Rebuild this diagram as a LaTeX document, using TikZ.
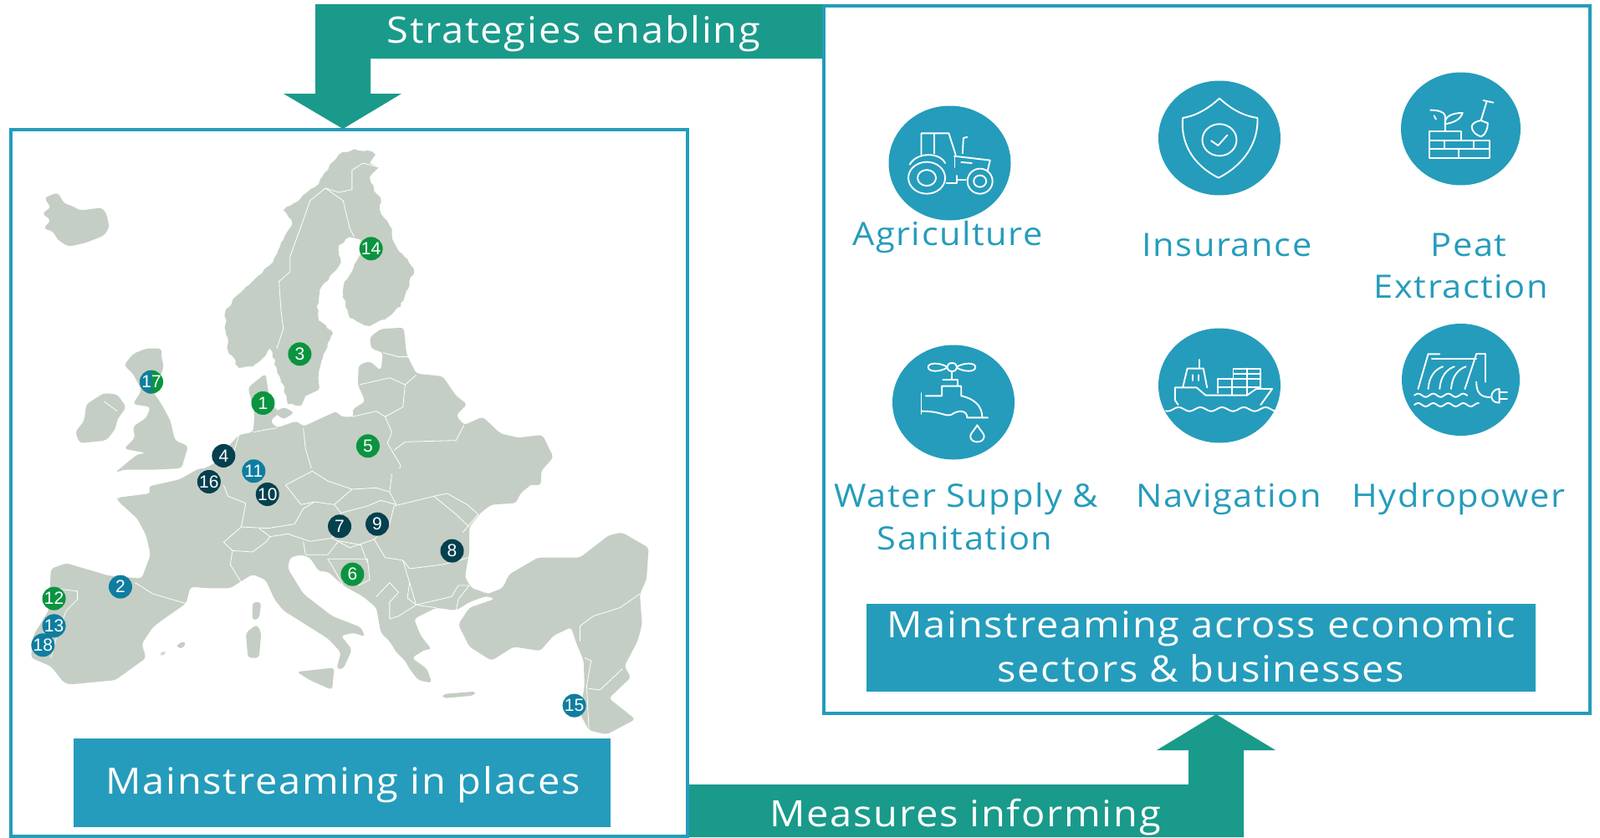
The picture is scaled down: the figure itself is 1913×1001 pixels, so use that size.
\documentclass[tikz,border=0pt]{standalone}
\usepackage{fontspec}
\usetikzlibrary{shapes.geometric,decorations.pathmorphing}
\setmainfont{Open Sans}
\newfontfamily\labelfont[LetterSpace=4,FakeStretch=1.08]{Open Sans}
\newfontfamily\pinfont{Liberation Sans}
\definecolor{frameblue}{HTML}{259CBB}
\definecolor{arrowteal}{HTML}{1A9A8A}
\definecolor{landgrey}{HTML}{C5CEC4}
\definecolor{pingreen}{HTML}{0A9440}
\definecolor{pinblue}{HTML}{0F7DA0}
\definecolor{pindark}{HTML}{04404E}
\tikzset{
  frame/.style={draw=frameblue,line width=4.5pt,fill=white},
  bigtext/.style={anchor=base,text=white,font=\labelfont\fontsize{43.5}{45}\selectfont,inner sep=0pt},
  sectortext/.style={anchor=base,text=frameblue,font=\labelfont\fontsize{38.5}{40}\selectfont,inner sep=0pt},
  land/.style={fill=landgrey,rounded corners=4pt},
  rough/.style={fill=landgrey,decorate,decoration={random steps,segment length=5pt,amplitude=1.6pt}},
  border/.style={draw=white,line width=0.8pt,line join=round},
  pin/.style={circle,fill=#1,text=white,inner sep=0pt,minimum size=28pt,font=\pinfont\fontsize{21}{21}\selectfont},
  sector/.style={ellipse,fill=frameblue,inner sep=0pt,minimum width=146pt,minimum height=137pt},
  icon/.style={draw=white,line width=1.9pt,line join=round,line cap=round},
  zoomA/.style={x=0.5294pt,y=-0.3333pt},
  zoomB/.style={x=0.5485pt,y=-0.3333pt}
}
\begin{document}
\begin{tikzpicture}[x=1pt,y=-1pt]
\useasboundingbox (0,0) rectangle (1913,1001);
\fill[white] (0,0) rectangle (1913,1001);

% frames
\draw[frame] (13,155) rectangle (822,1000);
\draw[frame] (985,7) rectangle (1901,853);

% arrows
\fill[arrowteal] (377,5) -- (983,5) -- (983,70) -- (443,70) -- (443,112) -- (480,112) -- (410,154) -- (339,112) -- (377,112) -- cycle;
\fill[arrowteal] (824,938) -- (1421,938) -- (1421,897) -- (1383,897) -- (1454,854) -- (1525,897) -- (1487,897) -- (1487,1001) -- (824,1001) -- cycle;
\node[bigtext] (strategies) at (686,51) {Strategies enabling};
\node[bigtext] (measures) at (1154,988) {Measures informing};

% map, north part
\begin{scope}[shift={(0,140)},zoomA]
\fill[land] (100,290)--(130,270)--(145,310)--(165,320)--(180,335)--(205,330)--(230,325)--(240,345)--(247,395)--(235,425)--(195,450)--(155,465)--(130,440)--(120,410)--(98,400)--(115,370)--(95,345)--(115,325)--cycle;
\fill[rough] (775,125)--(800,115)--(830,120)--(848,135)--(835,165)--(855,180)--(835,215)--(845,265)--(860,290)--(858,335)--(880,390)--(885,420)--(895,465)--(908,490)--(935,545)--(925,600)--(905,680)--(870,725)--(835,750)--(815,740)--(790,720)--(775,640)--(778,590)--(800,530)--(815,490)--(815,440)--(790,430)--(765,460)--(770,520)--(745,570)--(722,620)--(715,680)--(720,730)--(752,775)--(745,800)--(725,880)--(720,920)--(718,980)--(690,1000)--(680,1035)--(650,1030)--(640,960)--(625,900)--(610,830)--(590,870)--(570,895)--(540,900)--(515,840)--(510,770)--(510,690)--(535,640)--(570,590)--(610,530)--(640,440)--(660,380)--(640,335)--(680,290)--(720,240)--(745,170)--cycle;
\fill[land] (300,850)--(330,830)--(365,830)--(365,870)--(370,890)--(365,920)--(345,985)--(365,1030)--(385,1090)--(395,1160)--(425,1180)--(410,1260)--(350,1265)--(280,1265)--(260,1275)--(310,1210)--(330,1205)--(280,1190)--(305,1150)--(300,1110)--(330,1080)--(340,1040)--(300,1030)--(320,980)--(300,920)--(280,890)--cycle;
\fill[land] (235,990)--(265,995)--(285,1040)--(265,1085)--(260,1120)--(240,1160)--(180,1170)--(170,1130)--(190,1090)--(195,1030)--cycle;
\fill[land] (640,1040)--(665,1060)--(640,1085)--(620,1060)--cycle;
\fill[land] (440,1320)--(440,1270)--(470,1255)--(490,1235)--(510,1190)--(540,1140)--(572,1130)--(575,1060)--(560,970)--(600,920)--(605,975)--(612,1030)--(632,1060)--(610,1090)--(625,1115)--(670,1090)--(685,1110)--(760,1055)--(770,1075)--(800,1075)--(795,1050)--(825,1020)--(808,960)--(810,890)--(835,875)--(860,910)--(865,845)--(838,830)--(835,790)--(860,760)--(912,755)--(918,850)--(940,920)--(970,925)--(1000,930)--(1030,1000)--(1055,1030)--(1030,1070)--(1048,1105)--(1090,1075)--(1130,1135)--(1170,1150)--(1225,1140)--(1250,1220)--(1222,1270)--(1222,1320)--cycle;
\draw[border] (735,255)--(700,300)--(685,370)--(655,500)--(655,555)--(630,590)--(635,700)--(640,760)--(625,830);
\draw[border] (735,255)--(765,270)--(795,260)--(795,190)--(820,165)--(855,180);
\draw[border] (735,255)--(775,300)--(790,400)--(800,430);
\draw[border] (865,845)--(900,860)--(925,860);
\draw[border] (812,960)--(880,935)--(915,960)--(940,925);
\draw[border] (915,960)--(910,1040)--(870,1075);
\draw[border] (795,1075)--(850,1055)--(870,1075)--(885,1130)--(875,1170)--(905,1250)--(885,1320);
\draw[border] (890,1195)--(915,1165)--(1030,1160)--(1048,1105);
\draw[border] (685,1115)--(690,1190)--(705,1270);
\draw[border] (540,1140)--(530,1190)--(515,1260);
\draw[border] (572,1130)--(625,1115);
\draw[border] (235,1020)--(265,1055);
\end{scope}

% map, south part
\begin{scope}[shift={(0,560)},zoomA]
\fill[land] (450,0)--(405,40)--(335,65)--(340,90)--(265,105)--(265,115)--(310,180)--(330,240)--(340,310)--(320,395)--(245,385)--(150,340)--(115,360)--(110,510)--(75,600)--(70,680)--(115,710)--(145,770)--(160,775)--(260,760)--(295,720)--(330,680)--(320,630)--(345,570)--(370,540)--(420,485)--(430,425)--(470,430)--(520,430)--(570,380)--(600,400)--(620,470)--(640,510)--(700,570)--(740,610)--(770,660)--(760,720)--(775,720)--(795,650)--(770,600)--(800,590)--(825,605)--(815,570)--(750,530)--(685,450)--(650,360)--(655,320)--(680,310)--(700,320)--(720,370)--(740,370)--(775,420)--(820,460)--(850,500)--(860,590)--(880,620)--(895,660)--(915,690)--(925,720)--(945,760)--(975,770)--(965,720)--(930,680)--(960,650)--(975,650)--(950,600)--(935,540)--(985,500)--(1030,510)--(1060,480)--(1098,458)--(1118,468)--(1060,500)--(1035,560)--(1060,640)--(1110,690)--(1160,640)--(1220,655)--(1250,600)--(1290,570)--(1300,620)--(1318,690)--(1320,780)--(1310,880)--(1330,940)--(1370,955)--(1435,900)--(1375,825)--(1425,750)--(1410,710)--(1440,620)--(1450,560)--(1445,450)--(1460,400)--(1465,285)--(1405,230)--(1375,240)--(1310,320)--(1215,320)--(1150,380)--(1135,430)--(1098,452)--(1095,445)--(1065,430)--(1050,390)--(1060,300)--(1060,210)--(1085,160)--(1110,130)--(1165,125)--(1175,90)--(1222,30)--(1222,0)--cycle;
\fill[land] (580,560)--(590,590)--(585,680)--(560,680)--(555,590)--cycle;
\fill[land] (570,480)--(590,480)--(585,540)--(570,545)--cycle;
\fill[land] (670,730)--(755,715)--(750,795)--(700,760)--cycle;
\fill[land] (1000,810)--(1075,800)--(1070,815)--(1000,825)--cycle;
\fill[land] (400,630)--(420,620)--(415,645)--(400,645)--cycle;
\fill[land] (362,665)--(370,655)--(375,665)--(365,672)--cycle;
\draw[border] (645,60)--(705,10)--(740,45)--(795,75)--(850,70)--(880,85)--(885,20);
\draw[border] (645,60)--(680,130)--(710,120)--(755,130)--(795,75);
\draw[border] (755,130)--(770,160)--(830,135)--(860,115)--(895,130)--(880,85);
\draw[border] (770,160)--(750,250)--(790,285)--(845,255)--(880,200)--(890,135)--(980,100)--(1030,165)--(1060,210);
\draw[border] (710,120)--(685,145)--(665,200)--(605,215)--(545,210);
\draw[border] (585,215)--(610,245)--(650,235)--(700,262)--(750,250);
\draw[border] (505,265)--(545,210)--(555,125)--(515,100)--(505,60);
\draw[border] (525,295)--(570,300)--(600,265)--(610,245);
\draw[border] (505,265)--(525,295)--(520,345)--(545,410);
\draw[border] (305,410)--(345,450)--(420,485);
\draw[border] (110,430)--(175,440)--(175,470)--(150,510)--(130,590)--(115,680);
\draw[border] (685,262)--(690,310)--(740,310)--(765,260)--(815,275)--(830,340);
\draw[border] (740,325)--(750,350)--(775,420);
\draw[border] (740,325)--(830,325)--(835,400)--(810,420);
\draw[border] (845,255)--(870,320)--(910,330)--(925,410)--(920,465)--(940,490);
\draw[border] (910,330)--(925,360)--(1000,345)--(1060,320);
\draw[border] (925,410)--(940,490)--(1020,460)--(1035,420)--(1060,420);
\draw[border] (880,540)--(900,530)--(940,490)--(985,500);
\draw[border] (850,460)--(880,410)--(900,445)--(880,480)--(880,540);
\draw[border] (980,100)--(1010,90)--(1055,130)--(1080,165)--(1045,230);
\draw[border] (1030,510)--(1035,470)--(1060,420);
\draw[border] (1445,450)--(1400,500)--(1340,530)--(1310,565)--(1310,620);
\draw[border] (1330,790)--(1355,795)--(1405,720);
\draw[border] (1320,680)--(1335,690)--(1325,780)--(1330,940);
\end{scope}

% pins
\begin{scope}[shift={(0,140)},zoomA]
\node[pin=pingreen] (p14) at (838,472) {14};
\node[pin=pingreen] (p3) at (677,850) {3};
\node[pin=pingreen,path picture={\fill[pinblue] (path picture bounding box.south west) rectangle (path picture bounding box.north);}] (p17) at (342,950) {17};
\node[pin=pingreen] (p1) at (594,1026) {1};
\node[pin=pingreen] (p5) at (831,1180) {5};
\node[pin=pindark] (p4) at (505,1215) {4};
\node[pin=pinblue] (p11) at (573,1270) {11};
\end{scope}
\begin{scope}[shift={(0,560)},zoomA]
\node[pin=pindark] (p16) at (472,48) {16};
\node[pin=pindark] (p10) at (604,93) {10};
\node[pin=pindark] (p7) at (767,208) {7};
\node[pin=pindark] (p9) at (852,200) {9};
\node[pin=pindark] (p8) at (1021,296) {8};
\node[pin=pingreen] (p6) at (796,380) {6};
\node[pin=pinblue] (p2) at (272,425) {2};
\node[pin=pingreen] (p12) at (122,467) {12};
\node[pin=pinblue] (p13) at (122,565) {13};
\node[pin=pinblue] (p18) at (97,634) {18};
\node[pin=pinblue] (p15) at (1297,851) {15};
\end{scope}

% label boxes
\fill[frameblue] (88,883) rectangle (730,989);
\node[bigtext] (places) at (410,949) {Mainstreaming in places};
\fill[frameblue] (1036,722) rectangle (1836,827);
\node[bigtext] (across1) at (1436,762) {Mainstreaming across economic};
\node[bigtext] (across2) at (1436,815) {sectors \& businesses};

% sector discs
\node[sector] (agri) at (1135.5,195) {};
\node[sector] (insur) at (1458,165) {};
\node[sector,minimum width=143pt,minimum height=135pt] (peat) at (1746.5,154) {};
\node[sector] (water) at (1140,481) {};
\node[sector] (navi) at (1458,461) {};
\node[sector,minimum width=141pt,minimum height=134pt] (hydro) at (1746.5,454) {};

% sector labels
\node[sectortext] (lagri) at (1133,293) {Agriculture};
\node[sectortext] (linsur) at (1467,306) {Insurance};
\node[sectortext] (lpeat) at (1756,306) {Peat};
\node[sectortext] (lpeat2) at (1747,356) {Extraction};
\node[sectortext] (lwater) at (1155,606) {Water Supply \&};
\node[sectortext] (lwater2) at (1153.5,657) {Sanitation};
\node[sectortext] (lnavi) at (1469,606) {Navigation};
\node[sectortext] (lhydro) at (1744,606) {Hydropower};

% icons, upper row
\begin{scope}[shift={(1000,70)},zoomB]
% tractor
\draw[icon] (197,428) circle [x radius=22pt,y radius=19pt] (197,428) circle [x radius=11pt,y radius=9.5pt];
\draw[icon] (313,440) circle [x radius=15pt,y radius=15pt] (313,440) circle [x radius=7.5pt,y radius=7pt];
\draw[icon] (185,345)--(185,268)--(245,268)--(260,345);
\draw[icon] (213,268)--(213,340);
\draw[icon] (275,340)--(277,285)--(285,282);
\draw[icon] (160,380) .. controls (175,335) and (225,335) .. (237,375);
\draw[icon] (257,350)--(335,365)--(330,400);
\draw[icon] (258,350)--(258,390);
\draw[icon] (272,372)--(295,375);
\draw[icon] (240,448)--(262,448)--(262,420);
\draw[icon] (262,435)--(282,435);
% shield
\draw[icon] (835,143) .. controls (810,180) and (785,205) .. (755,213) .. controls (750,300) and (775,380) .. (833,428) .. controls (890,380) and (920,300) .. (918,213) .. controls (885,205) and (860,180) .. (835,143) -- cycle;
\draw[icon] (835,292) circle [x radius=20.5pt,y radius=19pt];
\draw[icon] (817,295)--(832,312)--(852,275);
% peat
\draw[icon] (1327,260)--(1327,205) .. controls (1325,190) and (1310,185) .. (1295,185);
\draw[icon] (1327,235) .. controls (1325,205) and (1345,195) .. (1365,195) .. controls (1360,220) and (1345,230) .. (1327,235);
\draw[icon] (1303,205)--(1307,218);
\draw[icon] (1292,295)--(1292,262)--(1362,262)--(1362,295);
\draw[icon] (1292,295) rectangle (1424,357);
\draw[icon] (1292,325)--(1424,325);
\draw[icon] (1325,295)--(1325,325);
\draw[icon] (1390,295)--(1390,325);
\draw[icon] (1357,325)--(1357,357);
\draw[icon] (1418,152)--(1405,222);
\draw[icon] (1410,150)--(1432,158);
\draw[icon] (1405,222) .. controls (1395,225) and (1385,232) .. (1385,245) .. controls (1385,262) and (1395,275) .. (1405,280) .. controls (1415,275) and (1420,250) .. (1420,232) -- cycle;
\end{scope}

% icons, lower row
\begin{scope}[shift={(1000,370)},zoomB]
% tap
\draw[icon] (252,207) circle [x radius=6pt,y radius=5pt];
\draw[icon] (240,205) .. controls (225,190) and (200,190) .. (200,207) .. controls (200,225) and (225,225) .. (240,210);
\draw[icon] (263,205) .. controls (280,190) and (303,190) .. (303,207) .. controls (303,225) and (280,225) .. (263,210);
\draw[icon] (252,225)--(252,252);
\draw[icon] (232,252)--(265,252)--(265,272);
\draw[icon] (195,310)--(230,310)--(230,275)--(272,275)--(272,310) .. controls (300,320) and (318,345) .. (318,388);
\draw[icon] (330,388)--(285,388) .. controls (285,360) and (265,360) .. (250,378) .. controls (235,385) and (230,365) .. (185,365);
\draw[icon] (185,300)--(185,375);
\draw[icon] (307,415) .. controls (300,435) and (292,445) .. (292,455) .. controls (292,482) and (322,482) .. (322,455) .. controls (322,445) and (314,435) .. (307,415) -- cycle;
% ship
\draw[icon] (745,342)--(738,325)--(738,280)--(785,280)--(805,308)--(895,308)--(915,285)--(950,285)--(925,342);
\draw[icon] (755,280)--(765,212)--(800,212)--(808,280);
\draw[icon] (792,180)--(792,212);
\draw[icon] (777,235)--(777,255) (790,235)--(790,255);
\draw[icon] (832,300)--(832,250)--(925,250);
\draw[icon] (865,250)--(865,212)--(925,212)--(925,285);
\draw[icon] (895,212)--(895,305) (862,250)--(862,305);
\draw[icon] (832,278)--(925,278);
\draw[icon] (865,232)--(925,232);
\draw[icon] plot[domain=718:955,samples=60,smooth] (\x,{358+7*sin(\x*7.6)});
% dam
\draw[icon] (1268,285)--(1290,160)--(1315,160);
\draw[icon] (1298,178)--(1395,178);
\draw[icon] (1395,160)--(1415,160)--(1415,260);
\draw[icon] (1395,160)--(1370,285);
\draw[icon] (1290,285) .. controls (1292,240) and (1305,215) .. (1322,205);
\draw[icon] (1315,285) .. controls (1317,240) and (1330,215) .. (1347,205);
\draw[icon] (1340,285) .. controls (1342,240) and (1355,215) .. (1372,205);
\draw[icon] plot[domain=1260:1375,samples=40,smooth] (\x,{308+6*sin(\x*11)});
\draw[icon] plot[domain=1260:1400,samples=50,smooth] (\x,{342+6*sin(\x*11)});
\draw[icon] (1395,260) .. controls (1395,300) and (1405,315) .. (1425,315);
\draw[icon] (1445,285) .. controls (1425,285) and (1420,335) .. (1445,335) -- cycle;
\draw[icon] (1445,298)--(1462,298) (1445,322)--(1462,322);
\end{scope}
\end{tikzpicture}
\end{document}
